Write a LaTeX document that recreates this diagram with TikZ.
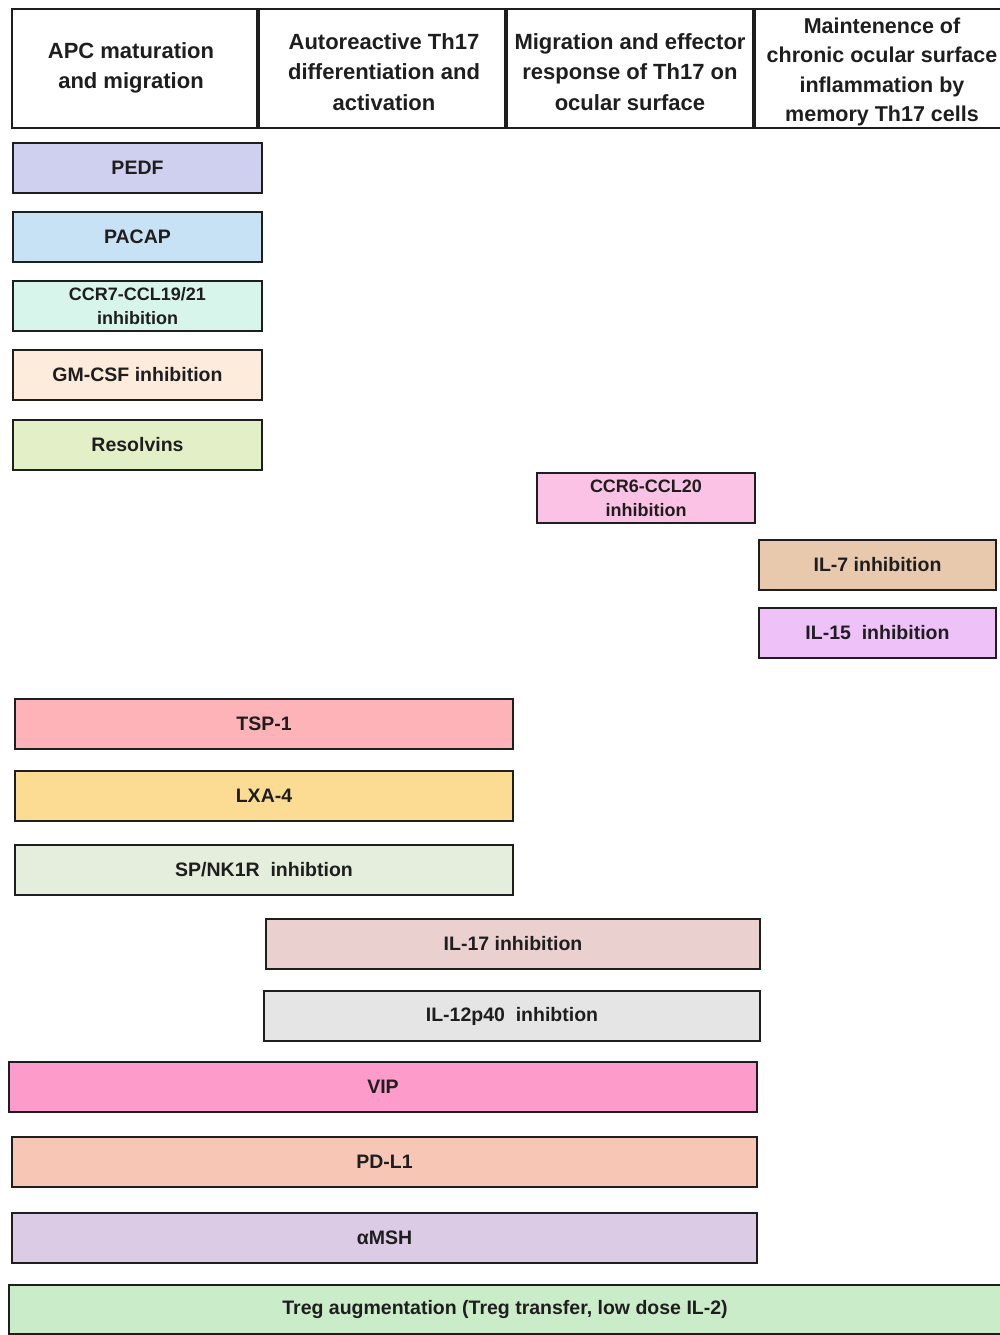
\documentclass[tikz,border=0pt]{standalone}
\usepackage{fontspec}
\setmainfont{Liberation Sans}
\definecolor{ink}{HTML}{1E1E1E}
\definecolor{cPEDF}{HTML}{CFD0F0}
\definecolor{cPACAP}{HTML}{C8E2F5}
\definecolor{cCCR}{HTML}{D8F5EC}
\definecolor{cGM}{HTML}{FDEBDC}
\definecolor{cRes}{HTML}{E3EFC7}
\definecolor{cCCRsix}{HTML}{FCC2E5}
\definecolor{cILseven}{HTML}{E8C9AD}
\definecolor{cILfifteen}{HTML}{EEC2F9}
\definecolor{cTSP}{HTML}{FDB3B7}
\definecolor{cLXA}{HTML}{FCDC93}
\definecolor{cSP}{HTML}{E5EEDD}
\definecolor{cILseventeen}{HTML}{EBD0D0}
\definecolor{cILtwelve}{HTML}{E5E5E5}
\definecolor{cVIP}{HTML}{FD9BCB}
\definecolor{cPDL}{HTML}{F7C6B5}
\definecolor{cMSH}{HTML}{DCCBE4}
\definecolor{cTreg}{HTML}{CAECC9}
\tikzset{
  hdr/.style={draw=ink, line width=2.4pt, fill=white, inner sep=0pt, minimum height=119pt},
  hdrtext/.style={align=center, text=ink, inner sep=0pt, font=\fontsize{22}{30.5}\selectfont\bfseries},
  bar/.style={draw=ink, line width=2pt, inner sep=0pt, minimum height=50pt,
    align=center, text=ink, font=\fontsize{19.5}{24}\selectfont\bfseries},
  barsmall/.style={bar, font=\fontsize{18}{24}\selectfont\bfseries},
}
\begin{document}
\begin{tikzpicture}[x=1pt,y=-1pt]
\useasboundingbox (0,0) rectangle (1000,1335);
\begin{scope}
\clip (0,0) rectangle (1000,1335);
% headers
\node[hdr, minimum width=245pt] (h1) at (134.5,68.5) {};
\node[hdr, minimum width=246pt] (h2) at (382,68.5) {};
\node[hdr, minimum width=246pt] (h3) at (630,68.5) {};
\node[hdr, minimum width=254pt] (h4) at (882,68.5) {};
\node[hdrtext] (h1t) at (131,68) {APC maturation\\and migration};
\node[hdrtext] (h2t) at (384,72) {Autoreactive Th17\\differentiation and\\activation};
\node[hdrtext] (h3t) at (630,72) {Migration and effector\\response of Th17 on\\ocular surface};
\node[hdrtext, font=\fontsize{21.5}{29.5}\selectfont\bfseries] (h4t) at (882,72) {Maintenence of\\chronic ocular surface\\inflammation by\\memory Th17 cells};
% bars
\node[bar, fill=cPEDF, minimum width=249pt] (pedf) at (137.5,168) {PEDF};
\node[bar, fill=cPACAP, minimum width=249pt] (pacap) at (137.5,237) {PACAP};
\node[barsmall, fill=cCCR, minimum width=249pt] (ccr7) at (137.5,306) {CCR7-CCL19/21\\inhibition};
\node[bar, fill=cGM, minimum width=249pt] (gmcsf) at (137.5,375) {GM-CSF inhibition};
\node[bar, fill=cRes, minimum width=249pt] (resolvins) at (137.5,445) {Resolvins};
\node[barsmall, fill=cCCRsix, minimum width=218pt] (ccr6) at (646,498) {CCR6-CCL20\\inhibition};
\node[bar, fill=cILseven, minimum width=237pt] (il7) at (877.5,565) {IL-7 inhibition};
\node[bar, fill=cILfifteen, minimum width=237pt] (il15) at (877.5,633) {IL-15\ \ inhibition};
\node[bar, fill=cTSP, minimum width=498pt] (tsp) at (264,724) {TSP-1};
\node[bar, fill=cLXA, minimum width=498pt] (lxa) at (264,796) {LXA-4};
\node[bar, fill=cSP, minimum width=498pt] (spnk) at (264,870) {SP/NK1R\ \ inhibtion};
\node[bar, fill=cILseventeen, minimum width=494pt] (il17) at (513,944) {IL-17 inhibition};
\node[bar, fill=cILtwelve, minimum width=496pt] (il12) at (512,1016) {IL-12p40\ \ inhibtion};
\node[bar, fill=cVIP, minimum width=748pt] (vip) at (383,1087) {VIP};
\node[bar, fill=cPDL, minimum width=745pt] (pdl1) at (384.5,1162) {PD-L1};
\node[bar, fill=cMSH, minimum width=745pt] (amsh) at (384.5,1238) {αMSH};
\node[bar, fill=cTreg, minimum width=992pt, minimum height=49pt] (treg) at (505,1309.5) {Treg augmentation (Treg transfer, low dose IL-2)};
\end{scope}
\end{tikzpicture}
\end{document}
